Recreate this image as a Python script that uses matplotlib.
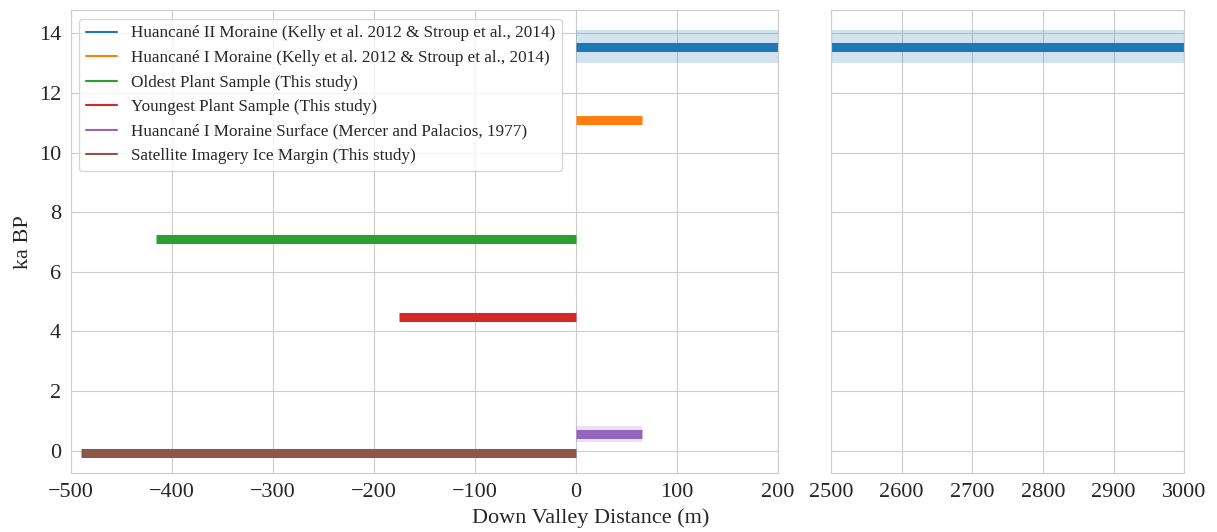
import numpy as np
import matplotlib
matplotlib.use("Agg")
import matplotlib.pyplot as plt
import seaborn as sns

sns.set_style("whitegrid")
plt.rcParams['font.family'] = ['Liberation Serif', 'DejaVu Serif']

# Horizontal age markers: label, y (ka BP), x-start, x-end (m), band low, band high
labels = ["Huancané II Moraine (Kelly et al. 2012 & Stroup et al., 2014)",
          "Huancané I Moraine (Kelly et al. 2012 & Stroup et al., 2014)",
          "Oldest Plant Sample (This study)",
          "Youngest Plant Sample (This study)",
          "Huancané I Moraine Surface (Mercer and Palacios, 1977)",
          "Satellite Imagery Ice Margin (This study)"]
ages = [13.53, 11.08, 7.1, 4.48, 0.57, -0.07]
x_start = [0, 0, -416, -175, 0, -490]
x_end = [3000, 65, 0, 0, 65, 0]
band_lo = [13.0, None, None, None, 0.3, None]
band_hi = [14.1, None, None, None, 0.82, None]
colors = ["#1f77b4", "#ff7f0e", "#2ca02c", "#d62728", "#9467bd", "#8c564b"]

fig, (ax1, ax2) = plt.subplots(1, 2, figsize=(12.17, 5.32), dpi=100, sharey=True,
                               gridspec_kw={"width_ratios": [707, 353]})
fig.subplots_adjust(left=0.0583, right=0.973, top=0.981, bottom=0.110, wspace=0.1)

for ax in (ax1, ax2):
    for i in range(len(labels)):
        ax.plot([x_start[i], x_end[i]], [ages[i], ages[i]], color=colors[i], lw=6.5,
                solid_capstyle="butt")
        if band_lo[i] is not None:
            ax.fill_between([x_start[i], x_end[i]], band_lo[i], band_hi[i],
                            color=colors[i], alpha=0.2, lw=0)
    ax.tick_params(labelsize=16)

# legend handles with thin lines
handles = [plt.Line2D([], [], color=c, lw=1.5) for c in colors]
ax1.legend(handles, labels, loc="upper left", fontsize=12.3, frameon=True,
           handlelength=1.8, bbox_to_anchor=(0.0, 1.0))

ax1.set_xlim(-500, 200)
ax2.set_xlim(2500, 3000)
ax1.set_ylim(-0.77, 14.78)
ax1.set_xticks([-500, -400, -300, -200, -100, 0, 100, 200])
ax2.set_xticks([2500, 2600, 2700, 2800, 2900, 3000])
ax1.set_yticks([0, 2, 4, 6, 8, 10, 12, 14])
ax1.set_ylabel("ka BP", fontsize=16)
fig.text(0.485, 0.008, "Down Valley Distance (m)", ha="center", va="bottom", fontsize=16)

plt.savefig("out.png")
